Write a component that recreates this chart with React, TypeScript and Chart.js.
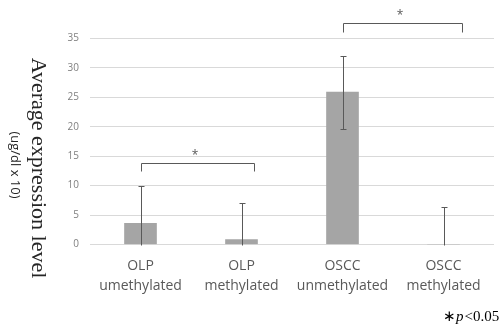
import React, { useEffect, useRef } from "react";
import { Chart, registerables } from "chart.js";

Chart.register(...registerables);

// ---- data ----
const categories: string[][] = [
  ["OLP", "umethylated"],
  ["OLP", "methylated"],
  ["OSCC", "unmethylated"],
  ["OSCC", "methylated"],
];
const means: number[] = [3.6, 0.85, 25.9, 0];
const errors: number[] = [6.3, 6.2, 6.2, 6.3];
const yMin = 0;
const yMax = 35;
const yStep = 5;
// significance brackets in data units (category index, value)
const bracketFrom: number[] = [0, 2];
const bracketTo: number[] = [1.12, 3.18];
const bracketLevel: number[] = [13.8, 37.6];
const bracketDrop: number[] = [1.3, 1.5];
const bracketMark: string[] = ["*", "*"];
const yTitle = "Average expression level";
const yUnit = "(ug/dl x 10)";
const footStar = "∗";
const footP = "p";
const footRest = "<0.05";

const W = 503;
const H = 327;

const errorBarPlugin = {
  id: "errorBars",
  afterDatasetsDraw(chart: any) {
    const { ctx, scales } = chart;
    const xs = scales.x;
    const ys = scales.y;
    ctx.save();
    ctx.strokeStyle = "#595959";
    ctx.lineWidth = 1;
    const cap = 3;
    means.forEach((m, i) => {
      const x = Math.round(xs.getPixelForValue(i)) + 0.5;
      const hiV = m + errors[i];
      const loV = Math.max(0, m - errors[i]);
      const top = Math.round(ys.getPixelForValue(hiV)) + 0.5;
      const bot = Math.round(ys.getPixelForValue(loV)) + 0.5;
      ctx.beginPath();
      ctx.moveTo(x, top);
      ctx.lineTo(x, bot);
      ctx.moveTo(x - cap, top);
      ctx.lineTo(x + cap, top);
      if (m - errors[i] > 0) {
        ctx.moveTo(x - cap, bot);
        ctx.lineTo(x + cap, bot);
      }
      ctx.stroke();
    });
    ctx.restore();
  },
};

const annotationPlugin = {
  id: "annotations",
  afterDraw(chart: any) {
    const { ctx, scales } = chart;
    const xs = scales.x;
    const ys = scales.y;
    ctx.save();
    // brackets
    ctx.strokeStyle = "#595959";
    ctx.fillStyle = "#595959";
    ctx.lineWidth = 1;
    bracketFrom.forEach((f, i) => {
      const x1 = Math.round(xs.getPixelForValue(f)) + 0.5;
      const x2 = Math.round(xs.getPixelForValue(bracketTo[i])) + 0.5;
      const y = Math.round(ys.getPixelForValue(bracketLevel[i])) + 0.5;
      const yd = Math.round(ys.getPixelForValue(bracketLevel[i] - bracketDrop[i])) + 0.5;
      ctx.beginPath();
      ctx.moveTo(x1, yd);
      ctx.lineTo(x1, y);
      ctx.lineTo(x2, y);
      ctx.lineTo(x2, yd);
      ctx.stroke();
      ctx.font = "12px 'Open Sans'";
      ctx.textAlign = "center";
      ctx.textBaseline = "middle";
      ctx.fillText(bracketMark[i], (x1 + x2) / 2 - 3, y - 8);
    });

    // rotated axis titles (clockwise)
    ctx.fillStyle = "#262626";
    ctx.save();
    ctx.translate(38, 168);
    ctx.rotate(Math.PI / 2);
    ctx.font = "22px 'Liberation Serif'";
    ctx.textAlign = "center";
    ctx.textBaseline = "middle";
    ctx.fillText(yTitle, 0, 0);
    ctx.restore();

    ctx.save();
    ctx.translate(15, 165);
    ctx.rotate(Math.PI / 2);
    ctx.font = "13px 'Open Sans'";
    ctx.textAlign = "center";
    ctx.textBaseline = "middle";
    ctx.fillText(yUnit, 0, 0);
    ctx.restore();

    // footnote
    ctx.fillStyle = "#000000";
    ctx.textAlign = "left";
    ctx.textBaseline = "alphabetic";
    const by = 321;
    ctx.font = "15px 'Liberation Serif'";
    ctx.fillText(footStar, 443, by);
    ctx.font = "italic 15px 'Liberation Serif'";
    ctx.fillText(footP, 456, by);
    const px = 456 + ctx.measureText(footP).width + 1;
    ctx.font = "15px 'Liberation Serif'";
    ctx.fillText(footRest, px, by);
    ctx.restore();
  },
};

export default function App() {
  const ref = useRef<HTMLCanvasElement | null>(null);
  useEffect(() => {
    if (!ref.current) return;
    const chart = new Chart(ref.current, {
      type: "bar",
      data: {
        labels: categories,
        datasets: [
          {
            data: means,
            backgroundColor: "#a5a5a5",
            borderWidth: 0,
            barThickness: 32,
          },
        ],
      },
      options: {
        animation: false,
        responsive: false,
        devicePixelRatio: 1,
        layout: { padding: { left: 0, right: 9, top: 38.5, bottom: 22.5 } },
        plugins: {
          legend: { display: false },
          tooltip: { enabled: false },
          title: { display: false },
        },
        scales: {
          x: {
            grid: { display: false, drawTicks: false },
            border: { display: false },
            ticks: {
              color: "#595959",
              font: { family: "'Open Sans'", size: 14, lineHeight: 1.4 },
              padding: 12,
              maxRotation: 0,
              autoSkip: false,
            },
            afterFit(scale: any) {
              scale.height = 60;
            },
          },
          y: {
            min: yMin,
            max: yMax,
            grid: { color: "#d9d9d9", drawTicks: false, lineWidth: 1 },
            border: { display: false },
            ticks: {
              stepSize: yStep,
              color: "#7f7f7f",
              font: { family: "'Open Sans'", size: 10 },
              padding: 11,
            },
            afterFit(scale: any) {
              scale.width = 90;
            },
          },
        },
      },
      plugins: [errorBarPlugin, annotationPlugin],
    });
    return () => chart.destroy();
  }, []);
  return (
    <div style={{ position: "absolute", left: 0, top: 0, width: W, height: H, background: "#ffffff" }}>
      <canvas ref={ref} width={W} height={H} style={{ display: "block" }} />
    </div>
  );
}
